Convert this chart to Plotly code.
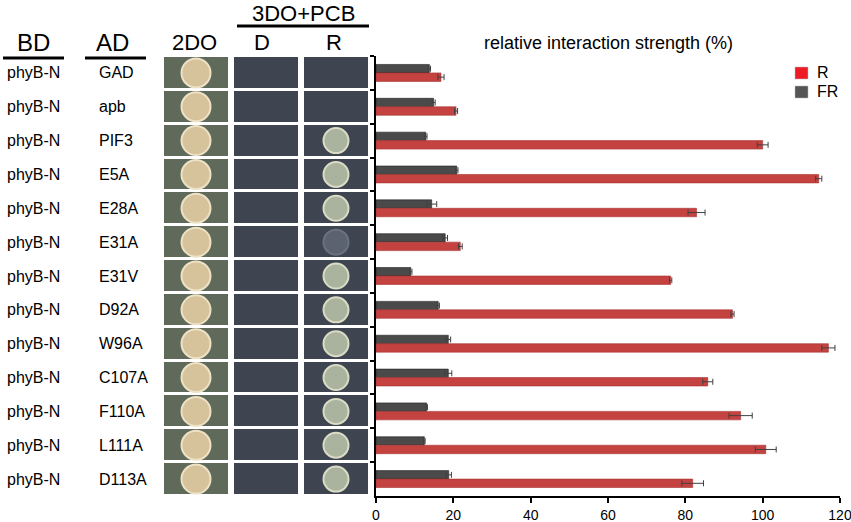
#!/usr/bin/env python
# coding: utf-8

"""
Yeast two-hybrid panel: phyB-N vs AD constructs, with relative interaction strength bars.
"""

import plotly.graph_objects as go

# Data
bd_labels = ["phyB-N"] * 13
ad_labels = ["GAD", "apb", "PIF3", "E5A", "E28A", "E31A", "E31V",
             "D92A", "W96A", "C107A", "F110A", "L111A", "D113A"]
r_vals = [16.8, 20.7, 100.0, 114.5, 82.9, 21.8, 76.2,
          92.2, 117.0, 85.8, 94.3, 100.8, 81.9]
r_err = [0.8, 0.4, 1.4, 0.8, 2.2, 0.5, 0.3,
         0.4, 1.7, 1.3, 3.0, 2.7, 2.8]
fr_vals = [13.8, 14.9, 12.9, 20.9, 14.4, 17.9, 9.0,
           16.1, 18.7, 18.7, 13.1, 12.5, 18.8]
fr_err = [0.3, 0.4, 0.3, 0.3, 1.3, 0.6, 0.3,
          0.3, 0.6, 0.9, 0.2, 0.2, 0.7]
plate_cols = ["2DO", "D", "R"]
# growth on 3DO+PCB under red light: 0 none, 1 weak, 2 strong
r_growth = [0, 0, 2, 2, 2, 1, 2, 2, 2, 2, 2, 2, 2]
legend_items = [("R", "#ed1c24"), ("FR", "#555555")]

FONT = "Arial, Liberation Sans, sans-serif"
W, H = 851, 522
T, B = 56, 26
PH = H - T - B


def px_x(p):
    return p / W


def px_y(p):
    return 1 - (p - T) / PH


fig = go.Figure()

# Bar chart (FR first so it sits above R in each row)
fig.add_trace(go.Bar(
    y=ad_labels, x=fr_vals, orientation="h", name="FR",
    marker=dict(color="#4a4a4a", line=dict(color="#202020", width=0.6)),
    error_x=dict(type="data", array=fr_err, color="#404040", thickness=1, width=3),
))
fig.add_trace(go.Bar(
    y=ad_labels, x=r_vals, orientation="h", name="R",
    marker=dict(color="#c44240", line=dict(color="#a83030", width=0.6)),
    error_x=dict(type="data", array=r_err, color="#404040", thickness=1, width=3),
))

# Plate background cells
z = [[0 if c == "2DO" else 1 for c in plate_cols] for _ in ad_labels]
fig.add_trace(go.Heatmap(
    x=[0, 1, 2], y=ad_labels, z=z, xaxis="x2", yaxis="y",
    colorscale=[[0, "#5f6a5a"], [1, "#3f4550"]], zmin=0, zmax=1,
    showscale=False, xgap=6, ygap=3, hoverinfo="skip",
))

# Colonies on 2DO
fig.add_trace(go.Scatter(
    x=[0] * len(ad_labels), y=ad_labels, mode="markers", xaxis="x2", yaxis="y",
    marker=dict(size=29, color="#d6c39c", line=dict(color="#eee2c6", width=2)),
    hoverinfo="skip",
))

# Colonies on 3DO+PCB, R
ry = [a for a, g in zip(ad_labels, r_growth) if g > 0]
rc = ["#aab39e" if g == 2 else "#5b6270" for g in r_growth if g > 0]
rl = ["#dadcc6" if g == 2 else "#6a7180" for g in r_growth if g > 0]
fig.add_trace(go.Scatter(
    x=[2] * len(ry), y=ry, mode="markers", xaxis="x2", yaxis="y",
    marker=dict(size=25, color=rc, line=dict(color=rl, width=2)),
    hoverinfo="skip",
))

annotations = []
# Row labels
for bd, ad in zip(bd_labels, ad_labels):
    annotations.append(dict(x=px_x(5), y=ad, xref="paper", yref="y", text=bd,
                            xanchor="left", showarrow=False,
                            font=dict(size=16, color="black", family=FONT)))
    annotations.append(dict(x=px_x(97), y=ad, xref="paper", yref="y", text=ad,
                            xanchor="left", showarrow=False,
                            font=dict(size=16, color="black", family=FONT)))

# Headers
headers = [("BD", 33, 42, 24), ("AD", 112, 42, 24), ("2DO", 194, 42, 22),
           ("D", 262, 42, 22), ("R", 334, 42, 22), ("3DO+PCB", 303, 13, 22),
           ("relative interaction strength (%)", 608, 43, 18)]
for txt, hx, hy, fs in headers:
    annotations.append(dict(x=px_x(hx), y=px_y(hy), xref="paper", yref="paper",
                            text=txt, showarrow=False, xanchor="center", yanchor="middle",
                            font=dict(size=fs, color="black", family=FONT)))

shapes = []
for x0, x1, yy in [(3, 64, 58), (85, 146, 58), (237, 369, 26)]:
    shapes.append(dict(type="line", xref="paper", yref="paper",
                       x0=px_x(x0), x1=px_x(x1), y0=px_y(yy), y1=px_y(yy),
                       line=dict(color="black", width=3)))

# Legend, drawn by hand to match the tight spacing of the original
for i, (name, col) in enumerate(legend_items):
    cy = 73 + i * 19
    shapes.append(dict(type="rect", xref="paper", yref="paper",
                       x0=px_x(795), x1=px_x(808), y0=px_y(cy - 6), y1=px_y(cy + 6),
                       fillcolor=col, line=dict(color="#bbbbbb", width=0.5)))
    annotations.append(dict(x=px_x(816), y=px_y(cy), xref="paper", yref="paper",
                            text=name, showarrow=False, xanchor="left", yanchor="middle",
                            borderpad=0,
                            font=dict(size=16, color="black", family=FONT)))

fig.update_layout(
    width=W, height=H,
    margin=dict(l=0, r=0, t=T, b=B),
    paper_bgcolor="white", plot_bgcolor="white",
    barmode="group", bargap=0.5, bargroupgap=0,
    showlegend=False,
    font=dict(family=FONT, color="black"),
    xaxis=dict(domain=[px_x(376), px_x(840)], range=[0, 120], dtick=20,
               showgrid=False, zeroline=False, showline=True, linecolor="black",
               linewidth=1.5, ticks="outside", ticklen=5, tickwidth=1.5,
               tickcolor="black", tickfont=dict(size=14, family=FONT), anchor="y",
               automargin=False, ticklabeloverflow="allow"),
    xaxis2=dict(domain=[px_x(161), px_x(371)], range=[-0.5, 2.5], visible=False,
                anchor="y", automargin=False),
    yaxis=dict(type="category", categoryorder="array", categoryarray=ad_labels,
               range=[12.5, -0.5], showticklabels=False, showgrid=False,
               zeroline=False, showline=True, linecolor="black", linewidth=1.5,
               ticks="outside", tickson="boundaries", ticklen=4, tickwidth=1.5,
               tickcolor="black", automargin=False),
    annotations=annotations,
    shapes=shapes,
)

# page has a default body margin; drop it so the figure fills the window
fig.write_html("out.html", config={"displayModeBar": False},
               post_script="document.body.style.margin='0';")
